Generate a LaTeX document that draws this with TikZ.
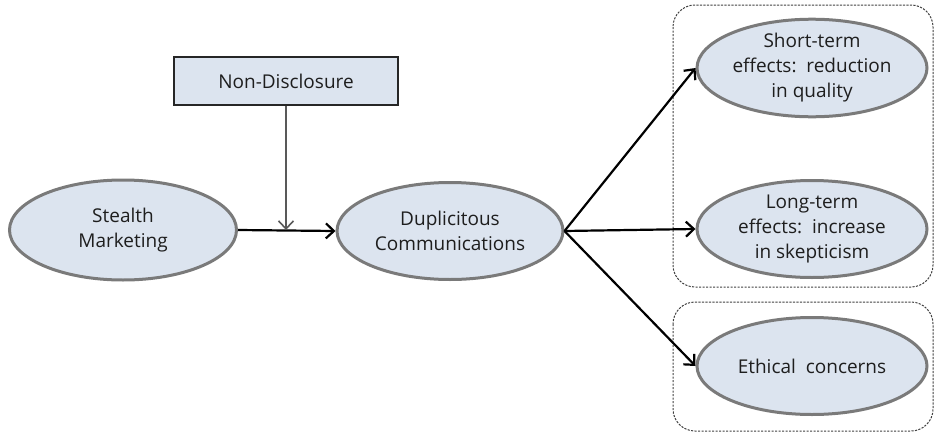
\documentclass[tikz,border=0pt]{standalone}
\usepackage{fontspec}
\setmainfont{Open Sans}
\usetikzlibrary{shapes.geometric,arrows.meta}
\definecolor{efill}{HTML}{DCE4EF}
\definecolor{eline}{HTML}{7A7A7A}
\definecolor{txt}{HTML}{1E1E1E}
\begin{document}
\begin{tikzpicture}[x=1pt,y=-1pt,
  ell/.style={ellipse,draw=eline,line width=3pt,fill=efill,inner sep=0pt,
    minimum width=226pt,minimum height=97pt,align=center,text=txt,
    font=\fontsize{19}{25}\selectfont},
  rbox/.style={draw=black!85,line width=1.6pt,fill=efill,minimum width=224pt,
    minimum height=48pt,text=txt,font=\fontsize{19}{25}\selectfont},
  arr/.style={line width=2.2pt,-{Straight Barb[length=8pt,width=15pt,line width=2.2pt]}},
  garr/.style={draw=black!65,line width=1.6pt,-{Straight Barb[length=8pt,width=15pt,line width=1.6pt]}},
  grp/.style={draw=black!75,dash pattern=on 2.2pt off 1.3pt,line width=1pt,rounded corners=22pt}]
\useasboundingbox (0,0) rectangle (937,434);
\draw[grp] (673,5) rectangle (933,287);
\draw[grp] (673,302) rectangle (933,431);
\node[ell,minimum width=227pt,minimum height=100pt] (sm) at (123,230) {Stealth\\Marketing};
\node[ell] (dc) at (450,231) {Duplicitous\\Communications};
\node[rbox] (nd) at (286,81) {Non-Disclosure};
\node[ell,minimum width=230pt] (st) at (812,68) {Short-term\\effects:\ \ reduction\\in quality};
\node[ell,minimum width=230pt] (lt) at (812,229) {Long-term\\effects:\ \ increase\\in skepticism};
\node[ell,minimum width=230pt] (ec) at (812,366) {Ethical\ \ concerns};
\draw[arr] (sm.east) -- (dc.west);
\draw[garr] (nd.south) -- (nd.south |- sm.east);
\draw[arr] (dc.east) -- (st.west);
\draw[arr] (dc.east) -- (lt.west);
\draw[arr] (dc.east) -- (ec.west);
\end{tikzpicture}
\end{document}
